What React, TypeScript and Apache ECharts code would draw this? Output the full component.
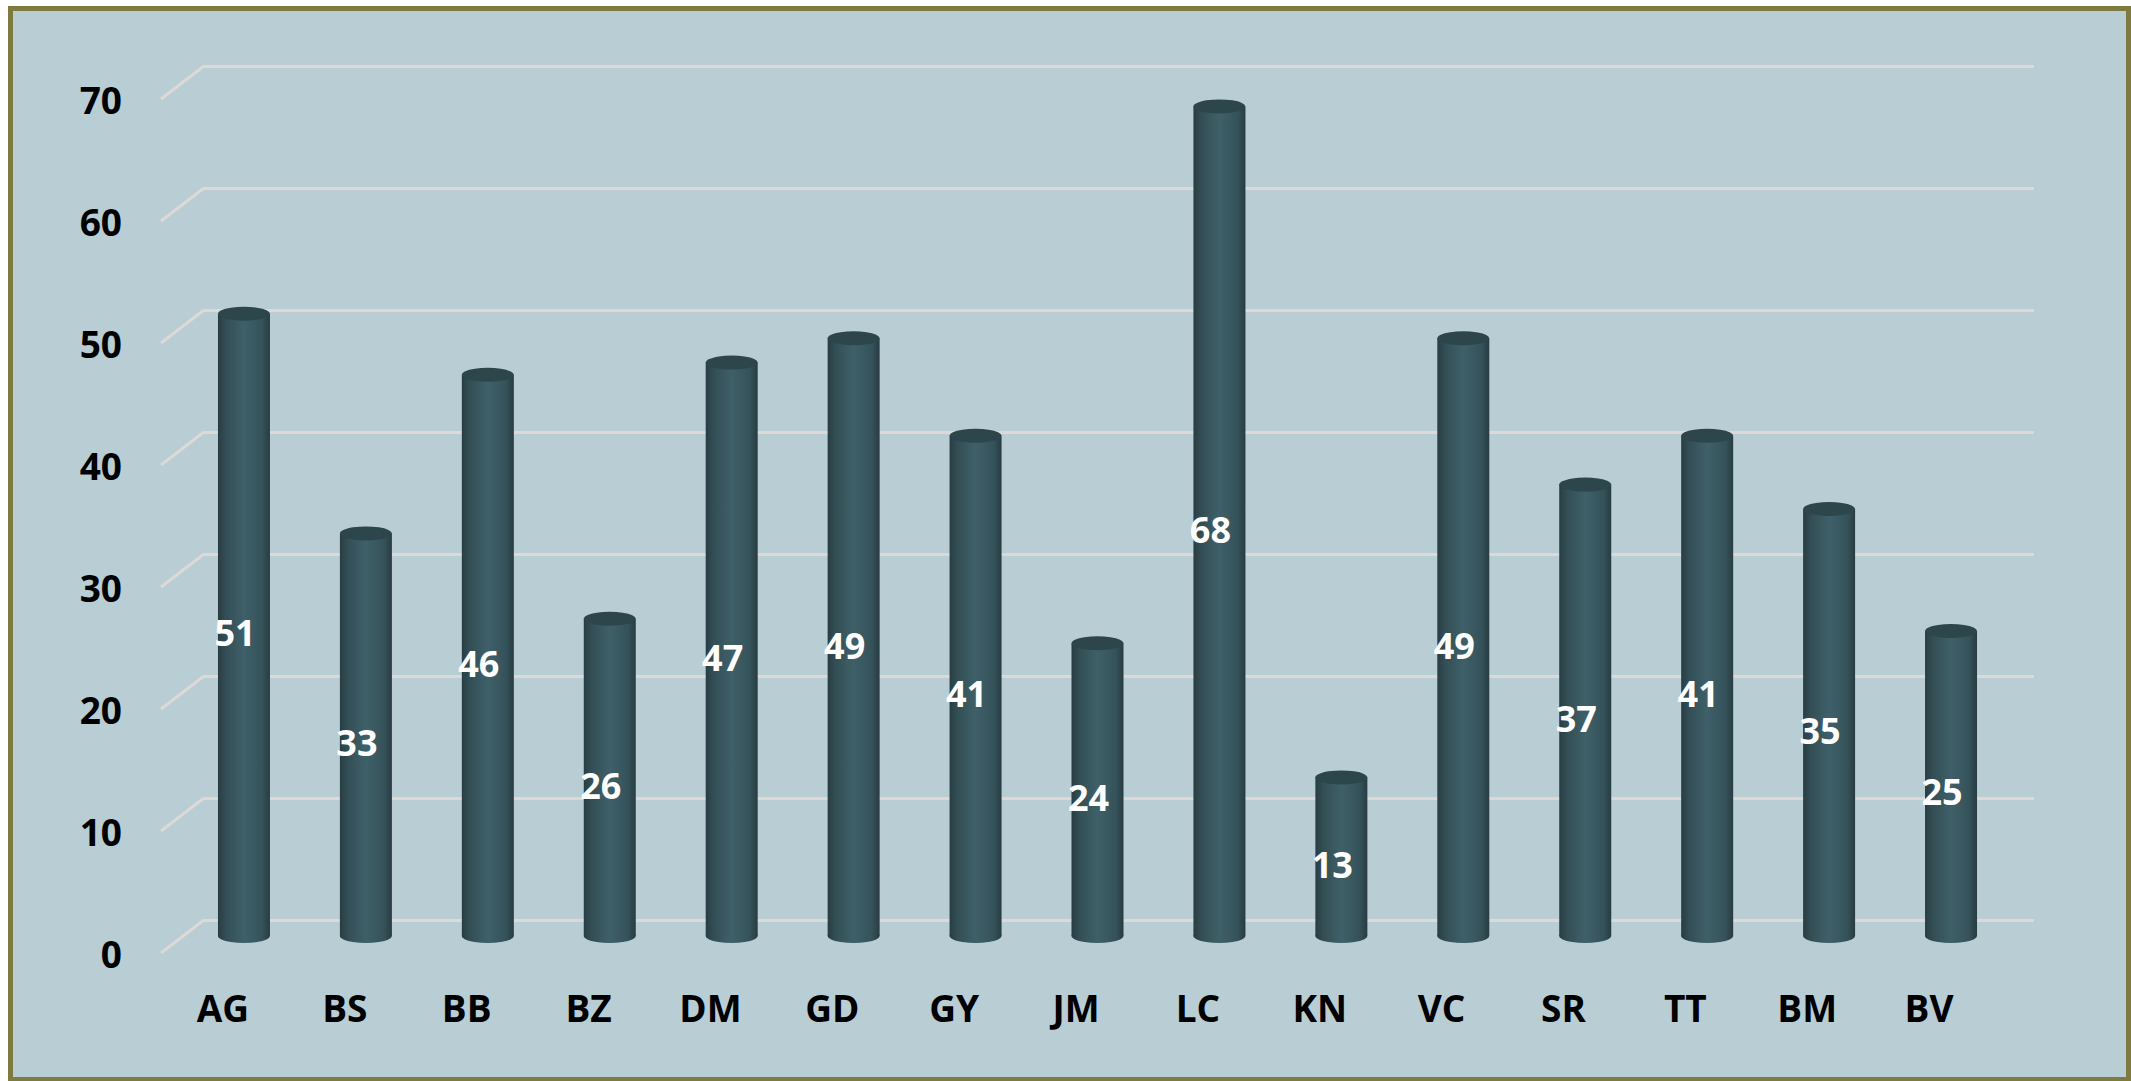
import React, { useEffect, useRef } from "react";
import * as echarts from "echarts";

const categories = ["AG", "BS", "BB", "BZ", "DM", "GD", "GY", "JM", "LC", "KN", "VC", "SR", "TT", "BM", "BV"];
const values = [51, 33, 46, 26, 47, 49, 41, 24, 68, 13, 49, 37, 41, 35, 25];
const gridTicks = [0, 10, 20, 30, 40, 50, 60, 70];

const FONT = "'Open Sans', 'Liberation Sans', sans-serif";
const BG = "#b8ced4";
const BORDER = "#7f7a3f";
const GRIDLINE = "#dcd9d6";

export default function App() {
  const ref = useRef<HTMLDivElement>(null);
  useEffect(() => {
    if (!ref.current) return;
    const chart = echarts.init(ref.current, undefined, { renderer: "svg" });
    const cylGrad = new echarts.graphic.LinearGradient(0, 0, 1, 0, [
      { offset: 0, color: "#283d43" },
      { offset: 0.15, color: "#334e55" },
      { offset: 0.5, color: "#3f6069" },
      { offset: 0.85, color: "#35525a" },
      { offset: 1, color: "#283c42" },
    ]);
    const option: any = {
      animation: false,
      backgroundColor: "#ffffff",
      graphic: [
        {
          type: "rect",
          z: -10,
          silent: true,
          shape: { x: 10.5, y: 8.5, width: 2118, height: 1071 },
          style: { fill: BG, stroke: BORDER, lineWidth: 5 },
        },
      ],
      grid: [
        { left: 204, right: 97, top: 66, bottom: 161 },
        { left: 183, right: 119, top: 82, bottom: 145 },
        { left: 162, right: 141, top: 99, bottom: 128 },
      ],
      xAxis: [
        { gridIndex: 0, type: "value", min: 0, max: 1, show: false },
        { gridIndex: 1, type: "category", data: categories, show: false },
        {
          gridIndex: 2,
          type: "category",
          data: categories,
          axisLine: { show: false },
          axisTick: { show: false },
          axisLabel: {
            margin: 36,
            color: "#000000",
            fontSize: 37,
            fontWeight: "bold",
            fontFamily: FONT,
          },
        },
      ],
      yAxis: [
        {
          gridIndex: 0,
          type: "value",
          min: 0,
          max: 70,
          interval: 10,
          axisLabel: { show: false },
          axisLine: { show: false },
          axisTick: { show: false },
          splitLine: { show: true, lineStyle: { color: GRIDLINE, width: 3 } },
        },
        { gridIndex: 1, type: "value", min: 0, max: 70, interval: 10, show: false },
        {
          gridIndex: 2,
          type: "value",
          min: 0,
          max: 70,
          interval: 10,
          axisLine: { show: false },
          axisTick: { show: false },
          splitLine: { show: false },
          axisLabel: {
            margin: 40,
            color: "#000000",
            fontSize: 37,
            fontWeight: "bold",
            fontFamily: FONT,
          },
        },
      ],
      series: [
        {
          type: "custom",
          xAxisIndex: 0,
          yAxisIndex: 0,
          clip: false,
          silent: true,
          data: gridTicks.map((t) => [0, t]),
          renderItem: (params: any, api: any) => {
            const p = api.coord([0, api.value(1)]);
            return {
              type: "line",
              shape: { x1: p[0] - 43, y1: p[1] + 33, x2: p[0], y2: p[1] },
              style: { stroke: GRIDLINE, lineWidth: 3 },
            };
          },
        },
        {
          type: "bar",
          xAxisIndex: 1,
          yAxisIndex: 1,
          data: values,
          barWidth: 52,
          z: 2,
          itemStyle: { color: cylGrad },
          label: {
            show: true,
            position: "inside",
            offset: [-9, 8],
            color: "#ffffff",
            fontSize: 36,
            fontWeight: "bold",
            fontFamily: FONT,
          },
        },
        {
          type: "pictorialBar",
          xAxisIndex: 1,
          yAxisIndex: 1,
          data: values,
          symbol: "circle",
          symbolSize: [52, 14],
          symbolPosition: "start",
          symbolOffset: [0, 7],
          z: 1,
          itemStyle: { color: cylGrad },
        },
        {
          type: "pictorialBar",
          xAxisIndex: 1,
          yAxisIndex: 1,
          data: values,
          symbol: "circle",
          symbolSize: [52, 14],
          symbolPosition: "end",
          symbolOffset: [0, -7],
          z: 3,
          itemStyle: { color: "#2d464c" },
        },
      ],
    };
    chart.setOption(option);
    return () => chart.dispose();
  }, []);
  return (
    <div
      ref={ref}
      style={{ position: "absolute", left: 0, top: 0, width: 2131, height: 1081 }}
    />
  );
}
